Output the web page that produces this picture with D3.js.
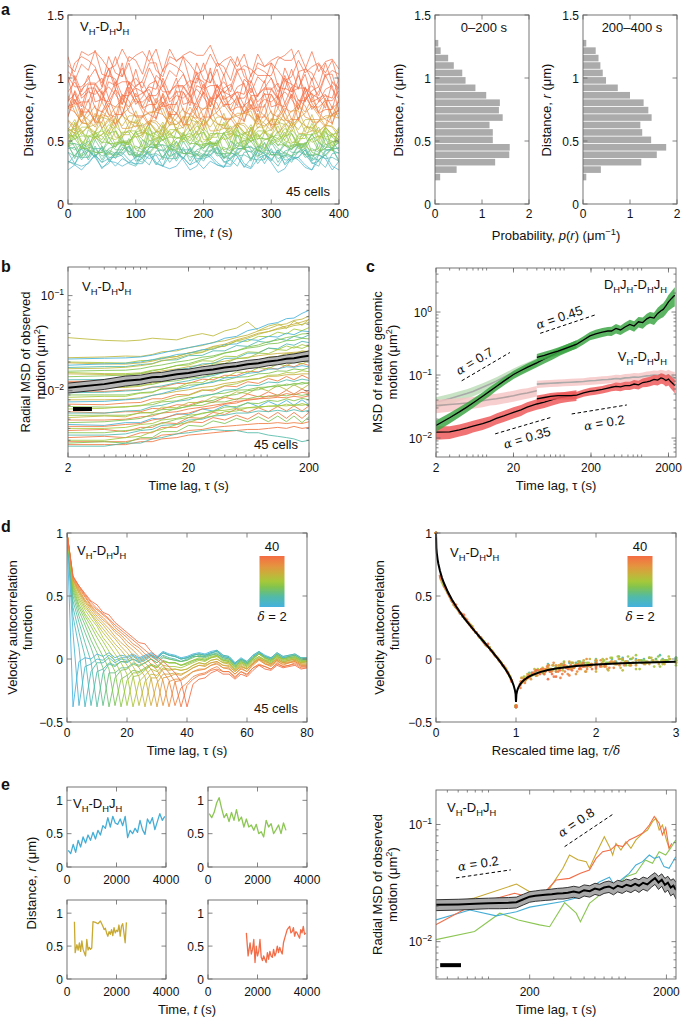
<!DOCTYPE html>
<html><head><meta charset="utf-8">
<script src="https://cdn.jsdelivr.net/npm/d3@7/dist/d3.min.js"></script>
<style>
html,body{margin:0;padding:0;background:#fff;}
svg{display:block;font-family:"Liberation Sans",Arial,Helvetica,sans-serif;}
</style></head><body>
<script>
// ================= DATA =================
// Panel a (left): distance r (x100, um) of 45 cells, sampled every 10 s
const aTime=[0,10,20,30,40,50,60,70,80,90,100,110,120,130,140,150,160,170,180,190,200,210,220,230,240,250,260,270,280,290,300,310,320,330,340,350,360,370,380,390,400];
const aTraces=[
[27,31,27,33,39,28,34,33,30,33,37,39,36,39,30,28,30,37,31,34,28,34,31,30,30,37,30,28,36,39,33,25,28,37,37,31,27,39,36,27,34],
[41,32,30,32,39,33,36,30,36,33,32,32,39,32,30,38,41,35,27,30,39,39,33,29,41,38,29,36,41,32,41,41,32,38,35,29,27,35,39,30,27],
[34,32,40,43,37,29,32,41,41,35,31,43,40,31,38,43,34,43,43,34,40,37,31,29,37,41,32,29,43,40,35,43,35,35,37,43,32,34,29,40,41],
[32,39,44,35,44,44,35,41,38,32,30,38,42,33,30,44,41,36,44,36,36,38,44,33,35,30,41,42,32,39,36,30,39,33,42,39,33,30,42,44,44],
[34,31,45,42,37,45,37,37,39,45,34,36,31,42,43,33,40,37,31,40,34,43,40,34,31,43,45,45,43,40,34,43,31,36,37,43,34,39,36,37,34],
[44,45,35,42,39,33,42,36,45,42,36,33,45,47,47,45,42,36,45,33,38,39,45,36,41,38,39,36,35,35,44,33,42,44,47,45,36,35,39,45,33],
[48,48,46,43,37,46,34,39,40,46,37,42,39,40,37,36,36,45,34,43,45,48,46,37,36,40,46,34,46,43,42,36,39,37,46,37,39,34,43,43,40],
[41,38,37,37,46,35,44,46,49,47,38,37,41,47,35,47,44,43,37,40,38,47,38,40,35,44,44,41,46,35,49,40,47,41,41,44,35,49,43,43,35],
[48,36,48,45,44,38,41,39,48,39,41,36,45,45,42,47,36,50,41,48,42,42,45,36,50,44,44,36,44,48,39,39,41,38,47,39,44,41,44,50,42],
[46,43,48,37,51,42,49,43,43,46,37,51,45,45,37,45,49,40,40,42,39,48,40,45,42,45,51,43,37,49,39,40,49,43,49,39,39,39,48,43,45],
[46,38,46,50,41,41,43,40,49,41,46,43,46,52,44,38,50,40,41,50,44,50,40,40,40,49,44,46,38,41,50,44,40,38,41,49,38,40,52,43,50],
[55,45,37,53,39,41,53,45,53,39,39,39,51,45,47,37,41,53,45,39,37,41,51,37,39,55,43,53,47,41,39,39,37,47,47,47,55,49,45,45,49],
[46,48,38,42,54,46,40,38,42,52,38,40,56,44,54,48,42,40,40,38,48,48,48,56,50,46,46,50,42,42,56,46,54,56,48,46,56,44,38,44,54],
[45,55,49,43,41,41,39,49,49,49,57,51,47,47,51,43,43,57,47,55,57,49,47,57,45,39,45,55,41,57,51,47,47,43,55,55,41,39,57,53,49],
[48,52,44,44,58,48,56,58,50,48,58,46,40,46,56,42,58,52,48,48,44,56,56,42,40,58,54,50,52,52,50,58,46,46,48,48,52,42,44,56,48],
[47,57,43,59,53,49,49,45,57,57,43,41,59,55,51,53,53,51,59,47,47,49,49,53,43,45,57,49,55,51,53,49,57,45,47,47,55,57,53,55,57],
[56,52,54,54,52,60,48,48,50,50,54,44,46,58,50,56,52,54,50,58,46,48,48,56,58,54,56,58,48,44,54,52,46,56,44,46,42,44,60,42,60],
[59,51,57,53,55,51,59,47,49,49,57,59,55,57,59,49,45,55,53,47,57,45,47,43,45,61,43,61,45,51,53,55,51,59,53,55,55,61,47,49,51],
[58,60,50,46,56,54,48,58,46,48,44,46,62,44,62,46,52,54,56,52,60,54,56,56,62,48,50,52,56,44,50,52,60,56,46,44,52,54,52,50,48],
[46,64,48,54,56,58,54,62,56,58,58,64,50,52,54,58,46,52,54,62,58,48,46,54,56,54,52,50,58,58,54,62,50,48,52,52,64,52,58,46,60],
[53,55,59,47,53,55,63,59,49,47,55,57,55,53,51,59,59,55,63,51,49,53,53,65,53,59,47,61,51,59,47,51,55,65,49,55,49,51,61,53,61],
[55,53,61,61,57,65,53,51,55,55,67,55,61,49,63,53,61,49,53,57,67,51,57,51,53,63,55,63,53,57,59,65,63,49,49,61,61,49,61,55,51],
[51,65,55,63,51,55,59,69,53,59,53,55,65,57,65,55,59,61,67,65,51,51,63,63,51,63,57,53,61,61,67,67,53,65,59,67,67,53,61,55,51],
[59,67,57,61,63,69,67,53,53,65,65,53,65,59,55,63,63,69,69,55,67,61,69,69,55,63,57,53,71,57,53,71,65,57,69,57,71,57,63,61,53],
[60,56,64,64,70,70,56,68,62,70,70,56,64,58,54,72,58,54,72,66,58,70,58,72,58,64,62,54,72,56,68,56,64,60,66,62,60,66,68,70,72],
[60,56,74,60,56,74,68,60,72,60,74,60,66,64,56,74,58,70,58,66,62,68,64,62,68,70,72,74,60,66,74,56,62,68,56,56,58,58,62,62,56],
[66,58,76,60,72,60,68,64,70,66,64,70,72,74,76,62,68,76,58,64,70,58,58,60,60,64,64,58,68,64,58,68,66,74,74,62,58,66,70,70,68],
[76,78,64,70,78,60,66,72,60,60,62,62,66,66,60,70,66,60,70,68,76,76,64,60,68,72,72,70,64,62,66,76,68,62,68,72,78,70,62,78,68],
[67,61,71,67,61,71,69,77,77,65,61,69,73,73,71,65,63,67,77,69,63,69,73,79,71,63,79,69,63,71,63,63,73,61,79,69,67,67,61,71,75],
[76,73,65,63,68,81,71,63,71,76,84,73,63,84,71,63,73,63,63,76,60,84,71,68,68,60,73,79,65,79,60,68,76,73,79,73,84,73,84,63,84],
[86,73,65,75,65,65,78,62,86,73,70,70,62,75,81,67,81,62,70,78,75,81,75,86,75,86,65,86,75,70,62,86,67,65,83,78,65,65,81,70,83],
[77,83,69,83,64,72,80,77,83,77,88,77,88,67,88,77,72,64,88,69,67,85,80,67,67,83,72,85,67,88,72,69,80,67,67,83,88,72,67,64,77],
[69,90,79,74,66,90,71,69,87,82,69,69,85,74,87,69,90,74,71,82,69,69,85,90,74,69,66,79,69,69,87,79,77,87,66,85,77,77,82,71,74],
[76,89,71,92,76,73,84,71,71,87,92,76,71,68,81,71,71,89,81,79,89,68,87,79,79,84,73,76,87,92,92,84,73,87,79,92,81,84,87,76,81],
[70,83,73,73,91,83,81,91,70,89,81,81,86,75,78,89,94,94,86,75,89,81,94,83,86,89,78,83,73,91,91,83,89,83,75,89,75,81,91,94,73],
[77,80,91,96,96,88,77,91,83,96,85,88,91,80,85,75,93,93,85,91,85,77,91,77,83,93,96,75,77,77,91,96,80,93,75,93,80,72,75,75,96],
[82,87,77,95,95,87,93,87,79,93,79,85,95,98,77,79,79,93,98,82,95,77,95,82,74,77,77,98,85,98,77,79,98,95,82,82,90,93,82,82,90],
[100,79,81,81,95,100,84,97,79,97,84,76,79,79,100,87,100,79,81,100,97,84,84,92,95,84,84,92,81,87,87,76,92,89,92,92,87,84,76,97,92],
[81,102,89,102,81,83,102,99,86,86,94,97,86,86,94,83,89,89,78,94,91,94,94,89,86,78,99,94,78,83,81,86,102,89,102,89,94,86,102,91,83],
[89,97,86,92,92,81,97,94,97,97,92,89,81,102,97,81,86,84,89,105,92,105,92,97,89,105,94,86,86,92,100,89,100,84,105,81,100,81,86,84,100],
[105,100,84,89,87,92,108,95,108,95,100,92,108,97,89,89,95,103,92,103,87,108,84,103,84,89,87,103,108,105,100,84,108,95,92,103,84,89,103,103,84],
[101,93,93,99,107,96,107,91,112,88,107,88,93,91,107,112,109,104,88,112,99,96,107,88,93,107,107,88,101,96,112,93,91,107,91,107,104,93,112,96,91],
[96,112,117,114,109,93,117,104,101,112,93,98,112,112,93,106,101,117,98,96,112,96,112,109,98,117,101,96,112,109,112,106,98,101,114,104,109,112,104,114,96],
[117,98,111,106,122,103,101,117,101,117,114,103,122,106,101,117,114,117,111,103,106,119,109,114,117,109,119,101,119,109,114,117,114,114,122,109,98,111,101,106,103],
[110,105,121,118,121,115,107,110,123,113,118,121,113,123,105,123,113,118,121,118,118,126,113,102,115,105,110,107,102,102,102,115,118,123,105,107,121,105,113,115,107]
];
// Panel a (right): histograms p(r)
const histR=[0.214,0.273,0.332,0.391,0.450,0.509,0.568,0.627,0.686,0.745,0.804,0.863,0.922,0.981,1.040,1.099,1.158,1.217,1.276];
const hist0to200=[0.11,0.46,1.28,1.58,1.59,1.23,1.23,1.16,1.44,1.36,1.38,1.09,0.86,0.65,0.58,0.40,0.28,0.12,0.07];
const hist200to400=[0.07,0.38,1.24,1.57,1.77,1.45,1.26,1.22,1.46,1.39,1.29,1.00,0.74,0.49,0.42,0.37,0.33,0.27,0.07];

// Panel b: radial MSD (x1e-4 um^2) vs time lag
const bTau=[2,4,6,8,10,12,16,20,26,32,40,50,62,76,92,110,130,150,175,200];
const bTraces=[
[361,338,332,340,356,350,342,372,398,376,425,455,530,428,478,505,452,540,486,565],
[222,226,231,229,240,256,262,284,298,322,335,362,385,425,448,488,505,548,565,610],
[215,219,221,226,236,248,270,282,304,318,356,372,428,452,500,520,572,580,650,700],
[200,197,195,207,208,224,228,250,255,288,292,332,330,372,370,412,395,445,428,460],
[196,191,190,196,204,216,229,249,266,292,308,342,368,402,418,452,478,502,528,560],
[185,191,194,200,212,218,240,246,270,272,305,310,345,338,372,366,402,388,425,418],
[175,179,179,188,192,208,211,233,235,262,262,298,292,330,320,352,338,372,358,385],
[170,172,176,183,191,205,219,238,252,278,296,334,356,392,418,442,458,484,498,522],
[160,163,164,170,180,186,200,208,225,232,250,262,280,290,310,315,335,338,355,350],
[155,151,151,154,164,168,183,186,206,204,230,228,256,252,280,270,295,280,305,290],
[150,148,146,151,155,161,169,179,185,196,204,216,224,233,240,246,249,253,255,262],
[140,143,146,151,161,168,184,192,212,225,248,262,288,302,328,340,362,372,395,398],
[130,131,136,139,148,152,167,172,191,193,218,220,248,248,280,276,310,300,330,320],
[125,126,129,131,137,140,147,156,161,171,177,187,194,206,211,221,224,232,234,241],
[121,120,121,127,129,136,139,148,150,163,165,179,182,196,196,208,206,218,214,224],
[115,118,119,127,130,143,147,164,168,190,193,218,220,248,245,270,265,290,278,298],
[110,109,110,114,116,123,127,135,139,149,155,165,170,181,186,196,199,206,207,212],
[105,107,108,111,120,124,136,140,155,158,178,182,202,206,226,228,246,244,262,256],
[100,98,101,102,109,109,119,119,132,130,145,144,160,157,174,168,186,178,194,184],
[95,96,99,101,108,112,121,127,137,144,156,164,176,184,196,204,214,219,228,230],
[90,90,90,95,97,104,105,114,116,126,128,138,140,150,152,161,160,169,165,174],
[85,87,87,94,95,106,107,121,121,138,137,157,154,174,170,190,182,202,190,208],
[80,80,81,84,89,92,98,102,108,111,119,123,131,134,141,142,147,147,150,150],
[76,77,80,82,89,93,103,107,118,122,136,139,152,156,168,169,178,176,183,178],
[72,71,74,75,82,82,91,90,102,99,112,110,124,119,134,126,141,130,145,134],
[68,67,67,70,71,76,78,84,86,92,94,101,102,108,109,115,113,119,117,122],
[64,65,68,69,75,78,86,89,100,103,113,118,130,133,145,146,155,153,162,158],
[60,58,60,60,65,64,71,70,78,75,85,80,92,86,97,89,101,92,104,95],
[58,58,61,62,68,70,77,80,89,91,101,103,114,113,123,121,130,125,132,128],
[55,55,55,58,59,63,64,69,70,76,76,82,82,87,86,90,88,92,89,92],
[52,54,53,59,58,67,66,75,75,86,84,97,93,107,99,113,102,115,104,116],
[49,49,50,53,54,58,60,64,67,70,73,77,79,82,83,85,84,87,85,88],
[46,47,49,51,56,58,65,68,76,79,88,91,100,102,110,110,117,114,122,118],
[44,43,46,46,51,50,57,56,64,61,70,66,75,68,77,70,79,70,80,71],
[42,42,44,45,49,51,56,58,64,66,72,74,81,82,88,87,93,90,96,93],
[40,40,41,44,45,49,51,55,57,61,62,65,66,68,68,70,69,71,70,72],
[38,39,37,41,41,46,45,52,51,59,56,64,59,66,60,68,61,69,61,69],
[36,36,38,39,43,45,50,52,58,60,67,68,74,73,79,77,82,78,83,80],
[34,34,35,38,39,43,44,49,50,54,55,58,58,61,60,62,60,63,60,62],
[32,33,32,36,36,41,41,47,46,52,49,55,50,58,51,59,51,59,51,59],
[30,30,32,33,37,39,44,46,52,54,60,61,66,66,69,68,72,69,73,70],
[29,29,29,31,31,34,35,38,39,41,42,43,44,45,45,46,45,46,45,47],
[28,29,28,32,32,37,37,43,42,48,45,51,47,53,47,54,47,54,46,53],
[27,27,27,29,29,31,32,34,35,36,37,38,39,39,40,41,40,42,40,41],
[26,26,28,28,31,32,35,36,38,39,38,38,36,36,34,33,32,31,29,30]
];
const bColor=[0.6,0.62,0.02,0.5,0.66,0.05,0.18,0.6,0.38,0.5,0.66,0.4,0.15,0.95,0.92,0.48,0.4,0.6,0.95,0.16,0.38,0.5,0.66,0.05,0.92,0.4,0.52,0.95,0.18,0.4,0.6,0.92,0.38,0.05,0.95,0.5,0.92,0.4,0.18,0.95,0.48,0.92,0.38,0.95,0.2];
const bMean=[107,117,127,131,138,140,149,153,162,167,175,180,189,194,203,208,216,219,227,233];
const bErr=[0.12,0.12,0.12,0.11,0.11,0.11,0.11,0.1,0.1,0.1,0.1,0.1,0.1,0.1,0.1,0.1,0.1,0.11,0.11,0.12];
const bBarTau=[2.2,3.16], bBarMSD=0.0064;

// Panel c: MSD of relative genomic motion (um^2)
const cTauS=[2,3,4,5,6,8,10,12,15,20,25,30,40,50,65,80,100,130];
const cGreenS=[0.0158,0.021,0.026,0.031,0.036,0.046,0.056,0.066,0.08,0.102,0.118,0.132,0.156,0.18,0.21,0.24,0.27,0.31];
const cRedS=[0.0124,0.0125,0.0135,0.0145,0.0155,0.017,0.0185,0.0205,0.0225,0.0256,0.028,0.031,0.0347,0.037,0.041,0.044,0.046,0.048];
const cGrayGS=[0.037,0.042,0.047,0.051,0.055,0.064,0.072,0.08,0.092,0.11,0.125,0.138,0.16];
const cGrayRS=[0.0327,0.034,0.035,0.036,0.037,0.039,0.041,0.042,0.044,0.047,0.05,0.052,0.0565];
const cErrGS=[0.2,0.19,0.18,0.17,0.17,0.16,0.16,0.15,0.15,0.15,0.15,0.15,0.15,0.15,0.15,0.15,0.15,0.15];
const cErrRS=[0.24,0.23,0.22,0.22,0.21,0.21,0.2,0.2,0.2,0.2,0.2,0.19,0.19,0.19,0.19,0.19,0.19,0.19];
const cTauL=[40,50,60,75,90,110,131,160,194,230,280,330,368,420,480,550,634,720,820,930,1050,1154,1300,1450,1600,1708,1850,2000,2150,2300,2412];
const cGreenL=[0.19,0.205,0.22,0.24,0.26,0.285,0.31,0.36,0.418,0.45,0.48,0.5,0.5,0.55,0.52,0.58,0.637,0.6,0.7,0.68,0.78,0.83,0.8,0.95,1.05,1.1,1.25,1.45,1.6,1.75,1.85];
const cRedL=[0.0417,0.044,0.046,0.047,0.047,0.047,0.048,0.052,0.055,0.0565,0.059,0.062,0.064,0.066,0.065,0.068,0.068,0.072,0.07,0.076,0.078,0.08,0.085,0.083,0.09,0.088,0.082,0.086,0.078,0.072,0.068];
const cGrayRL=[0.0718,0.073,0.074,0.075,0.076,0.077,0.078,0.079,0.081,0.082,0.084,0.085,0.086,0.088,0.087,0.09,0.091,0.093,0.092,0.095,0.097,0.098,0.1,0.099,0.102,0.1,0.097,0.1,0.095,0.092,0.09];
const cErrGL=[0.14,0.14,0.14,0.14,0.14,0.14,0.15,0.15,0.15,0.16,0.16,0.16,0.17,0.17,0.17,0.18,0.18,0.19,0.19,0.2,0.2,0.21,0.22,0.23,0.24,0.25,0.26,0.28,0.3,0.32,0.34];
const cErrRL=[0.13,0.13,0.13,0.13,0.13,0.13,0.13,0.13,0.14,0.14,0.14,0.14,0.14,0.15,0.15,0.15,0.15,0.16,0.16,0.16,0.17,0.17,0.18,0.18,0.19,0.19,0.2,0.21,0.22,0.23,0.25];
// guide slopes: [tau0, msd0, tau1, msd1, label tau, label msd, label]
const cGuides=[
 [4.29,0.081,18.0,0.228,6.7,0.168,"0.7"],
 [44.2,0.459,236,0.916,81.2,0.813,"0.45"],
 [11.6,0.01164,62.2,0.0214,31,0.0100,"0.35"],
 [112.6,0.0241,580,0.0335,302,0.0172,"0.2"]
];

// Panel d: velocity autocorrelation (x100) for delta = 2..40 s
const dTau=[0,2,4,6,8,10,12,14,16,18,20,22,24,26,28,30,32,34,36,38,40,42,44,46,48,50,52,54,56,58,60,62,64,66,68,70,72,74,76,78,80];
const dDelta=[2,4,6,8,10,12,14,16,18,20,22,24,26,28,30,32,34,36,38,40];
const dCurves=[
[100,-38,-2,1,0,4,2,5,1,3,2,4,1,3,5,2,6,4,3,1,2,4,5,4,6,7,3,2,-3,1,-2,3,6,3,1,5,2,3,4,1,1],
[100,21,-37,-6,-4,0,-1,3,-1,1,1,3,0,2,4,1,5,3,2,0,1,3,4,3,5,6,2,1,-4,0,-3,2,5,2,0,4,1,2,3,0,0],
[100,34,9,-38,-10,-3,-3,1,-3,0,-1,2,-1,1,3,1,5,3,2,0,1,3,4,3,5,6,2,1,-4,0,-3,2,5,2,0,4,1,2,3,0,0],
[100,41,21,2,-37,-10,-8,-3,-5,-2,-3,0,-3,-1,2,-1,3,1,0,-2,0,2,2,2,4,4,1,0,-5,-1,-4,1,5,1,-1,2,0,1,2,-1,-1],
[100,46,29,13,-2,-38,-11,-4,-6,-2,-2,0,-2,0,3,0,5,3,2,0,1,3,4,3,4,7,3,2,-3,0,-2,3,6,2,1,5,2,3,4,1,1],
[100,50,34,21,9,-5,-37,-11,-11,-7,-7,-3,-5,-3,0,-3,1,0,-1,-2,-1,2,2,1,3,4,0,-1,-6,-2,-4,0,4,1,-1,3,0,1,1,-1,-1],
[100,53,38,27,15,5,-7,-38,-15,-9,-8,-4,-6,-3,0,-3,2,0,-1,-2,-1,1,3,2,3,5,1,0,-5,-1,-3,1,4,1,-1,4,0,2,3,0,0],
[100,55,41,31,21,11,2,-8,-37,-16,-13,-9,-10,-7,-4,-6,-1,-3,-3,-5,-4,-2,0,-1,1,3,-1,-2,-7,-3,-6,-1,2,-1,-3,1,-2,-1,0,-3,-2],
[100,57,43,34,26,17,9,0,-10,-38,-17,-11,-11,-8,-5,-7,-2,-3,-3,-5,-3,-1,0,-1,1,2,-1,-2,-6,-2,-5,0,4,0,-2,2,-1,0,1,-2,-2],
[100,58,46,36,29,21,14,6,-2,-11,-37,-14,-13,-9,-5,-7,-2,-3,-3,-5,-3,-1,1,0,2,3,-1,-1,-6,-2,-5,1,4,1,-1,3,0,1,2,-1,-1],
[100,59,48,39,32,26,17,11,4,-3,-12,-38,-18,-13,-8,-10,-5,-6,-6,-7,-5,-3,-1,-2,1,2,-2,-3,-8,-3,-6,-1,2,-1,-2,2,-1,0,1,-2,-2],
[100,60,50,41,35,28,21,15,9,2,-5,-13,-37,-18,-12,-13,-7,-8,-8,-9,-8,-5,-3,-4,-1,0,-3,-4,-9,-5,-8,-3,1,-2,-4,0,-3,-1,0,-3,-3],
[100,61,52,43,36,30,24,18,12,7,1,-6,-14,-38,-15,-15,-8,-9,-8,-9,-8,-5,-3,-4,-1,0,-3,-3,-9,-4,-7,-2,1,-1,-4,1,-2,-1,0,-3,-2],
[100,62,53,45,38,32,27,21,16,10,5,-1,-7,-14,-37,-19,-12,-12,-11,-12,-10,-7,-5,-6,-3,-2,-5,-6,-10,-6,-8,-3,0,-3,-5,-1,-3,-2,-1,-4,-4],
[100,63,54,46,40,34,29,24,18,13,9,3,-2,-7,-15,-38,-15,-14,-12,-13,-10,-7,-5,-5,-3,-2,-5,-5,-10,-6,-8,-4,0,-2,-4,0,-3,-3,-1,-4,-4],
[100,63,55,47,41,36,31,27,21,17,11,7,2,-3,-8,-16,-37,-18,-16,-16,-13,-10,-8,-8,-5,-4,-7,-8,-12,-8,-10,-5,-1,-4,-6,-2,-4,-3,-2,-5,-5],
[100,64,56,49,42,37,33,28,23,19,14,10,6,1,-4,-9,-17,-38,-18,-17,-14,-10,-9,-8,-5,-3,-7,-7,-12,-7,-10,-4,0,-4,-5,-1,-5,-3,-2,-5,-5],
[100,65,57,50,43,39,35,31,25,21,17,12,9,4,0,-5,-10,-17,-37,-23,-19,-14,-12,-11,-8,-6,-10,-10,-15,-10,-13,-7,-4,-6,-8,-4,-6,-5,-4,-7,-7],
[100,65,58,51,45,40,36,32,27,23,19,15,11,7,3,-1,-5,-11,-18,-38,-21,-16,-13,-12,-9,-8,-10,-10,-14,-10,-12,-7,-5,-6,-8,-3,-6,-5,-3,-6,-6],
[100,66,58,52,46,43,37,35,29,25,21,17,13,12,6,2,-2,-6,-11,-18,-38,-20,-16,-15,-11,-9,-12,-12,-16,-12,-14,-9,-5,-8,-9,-5,-7,-6,-5,-8,-7]
];
// Panel d (right): master curve vs rescaled lag
const acfS=[0,0.005,0.01,0.02,0.03,0.05,0.075,0.1,0.15,0.2,0.25,0.3,0.35,0.4,0.45,0.5,0.55,0.6,0.65,0.7,0.75,0.8,0.85,0.9,0.93,0.95,0.97,0.985,0.995,1,1.005,1.015,1.03,1.05,1.075,1.1,1.15,1.2,1.3,1.4,1.5,1.75,2,2.25,2.5,2.75,3];
const acfV=[1,0.88,0.841,0.791,0.754,0.698,0.644,0.601,0.529,0.47,0.418,0.371,0.327,0.286,0.247,0.209,0.172,0.135,0.098,0.06,0.021,-0.019,-0.064,-0.113,-0.148,-0.176,-0.209,-0.243,-0.279,-0.34,-0.282,-0.251,-0.225,-0.203,-0.182,-0.167,-0.144,-0.128,-0.104,-0.088,-0.076,-0.056,-0.044,-0.035,-0.029,-0.025,-0.022];

// Panel e (left): single-cell distance traces (x100, um)
const eBlueT=[50,150,250,350,450,550,650,750,850,950,1050,1150,1250,1350,1450,1550,1650,1750,1850,1950,2050,2150,2250,2350,2450,2550,2650,2750,2850,2950,3050,3150,3250,3350,3450,3550,3650,3750,3850,3950];
const eBlueR=[25,20,34,22,40,30,45,36,48,40,52,42,55,48,62,58,74,60,76,66,64,72,62,76,44,55,50,58,52,70,56,49,72,65,74,56,68,80,70,76];
const eGreenT=[50,150,250,350,450,550,650,750,850,950,1050,1150,1250,1350,1450,1550,1650,1750,1850,1950,2050,2150,2250,2350,2450,2550,2650,2750,2850,2950,3050,3150];
const eGreenR=[80,74,82,96,104,88,74,80,68,82,70,86,69,75,60,72,60,63,55,64,50,53,45,70,60,65,50,56,63,50,66,55];
const eYellowT=[300,330,400,450,500,550,600,650,700,750,800,850,900,950,1000,1050,1150,1250,1350,1450,1500,1550,1600,1650,1700,1750,1800,1850,1900,1950,2000,2050,2100,2150,2200,2250,2300,2350,2400];
const eYellowR=[87,40,52,44,55,42,58,45,40,35,60,44,48,45,47,87,86,84,88,80,75,77,70,65,72,68,75,66,78,70,74,72,82,65,80,84,70,55,86];
const eOrangeT=[1550,1620,1700,1750,1800,1850,1900,1950,2000,2050,2100,2150,2200,2250,2300,2350,2400,2450,2500,2550,2600,2650,2700,2750,2800,2850,2900,2950,3000,3050,3100,3200,3300,3350,3400,3450,3500,3550,3600,3700,3750,3800,3850,3900,3950];
const eOrangeR=[70,35,55,38,45,60,25,50,35,42,60,33,28,35,30,25,40,30,42,35,33,45,35,40,50,40,48,42,38,55,62,75,80,70,72,78,65,72,70,62,75,70,80,68,70];

// Panel e (right): radial MSD (x1e-4 um^2) of long tracks
const eTau=[41,60,80,100,120,140,160,180,200,220,240,260,290,320,350,380,420,460,500,550,600,650,700,760,820,880,950,1020,1100,1180,1260,1350,1450,1550,1650,1750,1850,1950,2050,2150,2250,2350];
const eMean=[206,208,211,213,214,215,217,230,242,246,249,251,254,258,259,262,268,262,275,270,284,278,290,296,284,300,292,306,298,312,300,318,308,330,348,320,338,305,318,290,300,276];
const eErr=[22,22,22,22,23,23,23,24,25,25,26,26,27,27,28,28,29,29,30,30,31,31,32,33,33,34,34,35,36,36,37,38,38,39,40,41,41,42,43,44,44,45];
const eYelT=[41,77,160,200,236,280,350,391,450,518,547,610,703,766,809,855,930,1012,1100,1197,1338,1455,1582,1675,1770,1870,2000,2092];
const eYelV=[199,234,310,267,234,285,423,549,500,482,423,560,787,647,549,690,605,714,626,738,841,897,1057,1130,897,990,738,626];
const eOrT=[41,77,155,200,236,280,313,391,470,547,612,684,780,855,960,1069,1197,1338,1500,1630,1770,1870,1975,2092,2190];
const eOrV=[139,206,259,240,234,294,336,347,383,409,514,586,605,668,647,738,787,841,990,1170,1024,814,940,626,690];
const eBlT=[41,73,114,160,200,350,470,547,650,766,830,930,1069,1197,1338,1500,1630,1770,1920,2092,2340];
const eBlV=[153,186,166,180,197,220,242,285,325,355,305,336,383,451,482,549,514,531,437,423,531];
const eGrT=[41,79,121,165,236,280,360,438,470,547,630,720,855,1012,1197,1400,1582,1770,1975,2140,2340];
const eGrV=[104,122,175,153,139,134,215,175,148,212,242,315,294,359,383,498,466,586,549,626,738];
const eGuides=[
 [57.8,0.035,145.5,0.041,85,0.046,"0.2"],
 [360,0.0647,832,0.1247,455,0.105,"0.8"]
];
const eBarTau=[44.3,62.9], eBarMSD=0.0063;

// ================= DRAWING =================
const W=685,H=1020, FR="#666", INK="#111";
const svg=d3.select("body").append("svg").attr("width",W).attr("height",H);
const defs=svg.append("defs");
const cmap=d3.scaleLinear().domain([0,0.2,0.38,0.5,0.65,0.82,1])
  .range(["#43b1de","#52baa8","#7ec34f","#a5c83a","#c8b13b","#e8903f","#f46c43"]).clamp(true);

let clipN=0;
function clipG(x0,x1,y0,y1){
  const id="clip"+(clipN++);
  defs.append("clipPath").attr("id",id).append("rect").attr("x",x0).attr("y",y0).attr("width",x1-x0).attr("height",y1-y0);
  return svg.append("g").attr("clip-path",`url(#${id})`);
}
function txt(g,x,y,s,o={}){
  const t=g.append("text").attr("x",x).attr("y",y).attr("font-size",o.size||12)
    .attr("text-anchor",o.anchor||"start").attr("fill",INK).text(s);
  if(o.weight) t.attr("font-weight",o.weight);
  return t;
}
function rich(g,x,y,parts,o={}){
  const fs=o.size||13;
  const t=g.append("text").attr("x",x).attr("y",y).attr("font-size",fs)
    .attr("text-anchor",o.anchor||"start").attr("fill",INK);
  if(o.rotate!=null) t.attr("transform",`rotate(${o.rotate},${x},${y})`);
  let shift=0;
  parts.forEach(([s,k])=>{
    const ts=t.append("tspan").text(s);
    let target=0;
    if(k==="sub"){target=fs*0.3; ts.attr("font-size",fs*0.72);}
    else if(k==="sup"){target=-fs*0.4; ts.attr("font-size",fs*0.72);}
    else if(k==="i"){ts.attr("font-style","italic");}
    else if(k==="g"){ts.attr("font-family",'"DejaVu Serif",serif').attr("font-style","italic").attr("font-size",fs*0.92);}
    if(Math.abs(target-shift)>0.01){ts.attr("dy",target-shift); shift=target;}
  });
  return t;
}
const VDJ=[["V"],["H","sub"],["-D"],["H","sub"],["J"],["H","sub"]];
const DJDJ=[["D"],["H","sub"],["J"],["H","sub"],["-D"],["H","sub"],["J"],["H","sub"]];
const numFmt=v=>(v<0?"\u2212":"")+Math.abs(v);

function axes(o){
  const g=svg.append("g");
  const {x0,x1,y0,y1,xs,ys}=o;
  const L=(a,b,c,d)=>g.append("line").attr("x1",a).attr("y1",b).attr("x2",c).attr("y2",d).attr("stroke",FR).attr("stroke-width",0.8);
  (o.xMinor||[]).forEach(v=>{const p=xs(v); if(p<x0+0.5||p>x1-0.5)return; L(p,y1,p,y1-2.5); L(p,y0,p,y0+2.5);});
  (o.xMajor||[]).forEach(v=>{const p=xs(v); L(p,y1,p,y1-4.5); L(p,y0,p,y0+4.5);});
  (o.yMinor||[]).forEach(v=>{const p=ys(v); if(p<y0+0.5||p>y1-0.5)return; L(x0,p,x0+2.5,p); L(x1,p,x1-2.5,p);});
  (o.yMajor||[]).forEach(v=>{const p=ys(v); L(x0,p,x0+4.5,p); L(x1,p,x1-4.5,p);});
  g.append("rect").attr("x",x0).attr("y",y0).attr("width",x1-x0).attr("height",y1-y0)
    .attr("fill","none").attr("stroke",FR).attr("stroke-width",0.9);
  (o.xMajor||[]).forEach(v=>txt(g,xs(v),y1+(o.xdy||14),numFmt(v),{anchor:"middle"}));
  (o.yMajor||[]).forEach(v=>{
    if(o.yLog){
      const e=Math.round(Math.log10(v));
      rich(g,x0-4,ys(v)+4.5,[["10"],[numFmt(e),"sup"]],{anchor:"end",size:12});
    } else txt(g,x0-4,ys(v)+4.5,numFmt(v),{anchor:"end"});
  });
  return g;
}
function logMinor(lo,hi){const a=[];for(let e=-4;e<=4;e++)for(let m=2;m<=9;m++){const v=m*Math.pow(10,e);if(v>=lo&&v<=hi)a.push(v);}return a;}
function yTitle(x,y,parts){rich(svg,x,y,parts,{anchor:"middle",rotate:-90,size:13});}
function xTitle(x,y,parts){rich(svg,x,y,parts,{anchor:"middle",size:13});}
function letter(x,y,s){txt(svg,x,y,s,{size:16,weight:"bold"});}

// ---------- Panel a (left) ----------
{
  const x0=68,x1=339,y0=15,y1=204;
  const xs=d3.scaleLinear([0,400],[x0,x1]), ys=d3.scaleLinear([0,1.5],[y1,y0]);
  const g=clipG(x0,x1,y0,y1);
  const line=d3.line().defined((d,i)=>i<aTime.length).x((d,i)=>xs(aTime[i])).y(d=>ys(d/100));
  aTraces.forEach(tr=>{
    const m=d3.mean(tr)/100;
    g.append("path").attr("d",line(tr)).attr("fill","none")
      .attr("stroke",cmap((m-0.3)/0.5)).attr("stroke-width",0.7).attr("stroke-linejoin","round");
  });
  axes({x0,x1,y0,y1,xs,ys,xMajor:[0,100,200,300,400],yMajor:[0,0.5,1,1.5],xdy:13.5});
  rich(svg,80,31,VDJ,{size:13});
  txt(svg,330,196,"45 cells",{anchor:"end",size:13});
  yTitle(33,110,[["Distance, "],["r","i"],[" (\u03bcm)"]]);
  xTitle(203.5,237,[["Time, "],["t","i"],[" (s)"]]);
  letter(1,15,"a");
}
// ---------- Panel a (right): histograms ----------
function hist(x0,x1,vals,label,titleX){
  const y0=15,y1=204;
  const xs=d3.scaleLinear([0,2],[x0,x1]), ys=d3.scaleLinear([0,1.5],[y1,y0]);
  const g=clipG(x0,x1,y0,y1);
  const hw=0.0262;
  g.selectAll("rect").data(vals).enter().append("rect")
    .attr("x",x0).attr("y",(d,i)=>ys(histR[i]+hw)).attr("width",d=>xs(d)-x0)
    .attr("height",(d,i)=>ys(histR[i]-hw)-ys(histR[i]+hw)).attr("fill","#ababab");
  axes({x0,x1,y0,y1,xs,ys,xMajor:[0,1,2],yMajor:[0,0.5,1,1.5],xdy:13.5});
  txt(svg,(x0+x1)/2+2,32,label,{anchor:"middle",size:13});
  yTitle(titleX,110,[["Distance, "],["r","i"],[" (\u03bcm)"]]);
}
hist(435,529,hist0to200,"0\u2013200 s",403);
hist(583,677,hist200to400,"200\u2013400 s",551);
xTitle(556,240,[["Probability, "],["p","i"],["("],["r","i"],[") (\u03bcm"],["\u22121","sup"],[")"]]);

// ---------- Panel b ----------
{
  const x0=68,x1=309,y0=267,y1=457;
  const xs=d3.scaleLog([2,200],[x0,x1]), ys=d3.scaleLog([0.002,0.2],[y1,y0]);
  const g=clipG(x0,x1,y0,y1);
  const line=d3.line().x((d,i)=>xs(bTau[i])).y(d=>ys(d*1e-4));
  bTraces.forEach((tr,k)=>g.append("path").attr("d",line(tr)).attr("fill","none")
    .attr("stroke",cmap(bColor[k])).attr("stroke-width",0.85));
  const area=d3.area().x((d,i)=>xs(bTau[i])).y0((d,i)=>ys(d*1e-4*(1-bErr[i]))).y1((d,i)=>ys(d*1e-4*(1+bErr[i])));
  g.append("path").attr("d",area(bMean)).attr("fill","#b4b4b4").attr("stroke","none");
  const lo=d3.line().x((d,i)=>xs(bTau[i])).y((d,i)=>ys(d*1e-4*(1-bErr[i])));
  const hi=d3.line().x((d,i)=>xs(bTau[i])).y((d,i)=>ys(d*1e-4*(1+bErr[i])));
  g.append("path").attr("d",lo(bMean)).attr("fill","none").attr("stroke","#222").attr("stroke-width",0.9);
  g.append("path").attr("d",hi(bMean)).attr("fill","none").attr("stroke","#222").attr("stroke-width",0.9);
  g.append("path").attr("d",line(bMean)).attr("fill","none").attr("stroke","#000").attr("stroke-width",2);
  g.append("rect").attr("x",xs(bBarTau[0])).attr("y",ys(bBarMSD)-2).attr("width",xs(bBarTau[1])-xs(bBarTau[0])).attr("height",4).attr("fill","#000");
  axes({x0,x1,y0,y1,xs,ys,xMajor:[2,20,200],xMinor:logMinor(2,200),yMajor:[0.01,0.1],yMinor:logMinor(0.002,0.2),yLog:true,xdy:14.5});
  rich(svg,82,291,VDJ,{size:13});
  txt(svg,298,449,"45 cells",{anchor:"end",size:13});
  yTitle(30,362,[["Radial MSD of observed"]]);
  yTitle(45,362,[["motion (\u03bcm"],["2","sup"],[")"]]);
  xTitle(188.5,490,[["Time lag, \u03c4 (s)"]]);
  letter(1,272,"b");
}
// ---------- Panel c ----------
{
  const x0=436,x1=676,y0=268,y1=457;
  const xs=d3.scaleLog([2,2500],[x0,x1]), ys=d3.scaleLog([0.005,5],[y1,y0]);
  const g=clipG(x0,x1,y0,y1);
  function band(tau,m,err,fill,op,lineCol,lw){
    const ar=d3.area().x((d,i)=>xs(tau[i])).y0((d,i)=>ys(d*(1-err[i]))).y1((d,i)=>ys(d*(1+err[i])));
    g.append("path").attr("d",ar(m)).attr("fill",fill).attr("fill-opacity",op);
    const ln=d3.line().x((d,i)=>xs(tau[i])).y(d=>ys(d));
    g.append("path").attr("d",ln(m)).attr("fill","none").attr("stroke",lineCol).attr("stroke-width",lw);
  }
  band(cTauS,cGrayGS,cErrGS,"#b9dcb5",0.8,"#a9a9a9",1.6);
  band(cTauS,cGrayRS,cErrRS,"#f6c3c3",0.8,"#b3a3a3",1.6);
  band(cTauL,cGrayRL,cErrRL,"#f6c3c3",0.8,"#aaaaaa",1.6);
  band(cTauS,cRedS,cErrRS,"#ef5a5a",0.85,"#000",1.3);
  band(cTauL,cRedL,cErrRL,"#ef5a5a",0.85,"#000",1.3);
  band(cTauS,cGreenS,cErrGS,"#3ea746",0.85,"#000",1.3);
  band(cTauL,cGreenL,cErrGL,"#3ea746",0.85,"#000",1.3);
  axes({x0,x1,y0,y1,xs,ys,xMajor:[2,20,200,2000],xMinor:logMinor(2,2500),yMajor:[0.01,0.1,1],yMinor:logMinor(0.005,5),yLog:true,xdy:14.5});
  cGuides.forEach(([t0,m0,t1,m1,lt,lm,lab])=>{
    const ax=xs(t0),ay=ys(m0),bx=xs(t1),by=ys(m1);
    svg.append("line").attr("x1",ax).attr("y1",ay).attr("x2",bx).attr("y2",by)
      .attr("stroke","#000").attr("stroke-width",1).attr("stroke-dasharray","3.5,2.5");
    const ang=Math.atan2(by-ay,bx-ax)*180/Math.PI;
    rich(svg,xs(lt),ys(lm)+4,[["\u03b1","g"],[" = "+lab]],{anchor:"middle",size:13,rotate:ang});
  });
  rich(svg,667,289,DJDJ,{anchor:"end",size:13});
  rich(svg,667,361,VDJ,{anchor:"end",size:13});
  yTitle(382,362,[["MSD of relative genomic"]]);
  yTitle(397,362,[["motion (\u03bcm"],["2","sup"],[")"]]);
  xTitle(556,490,[["Time lag, \u03c4 (s)"]]);
  letter(366,272,"c");
}
// colorbar
const grad=defs.append("linearGradient").attr("id","cbar").attr("x1",0).attr("y1",1).attr("x2",0).attr("y2",0);
d3.range(0,1.0001,0.1).forEach(t=>grad.append("stop").attr("offset",t).attr("stop-color",cmap(t)));
function colorbar(cx){
  svg.append("rect").attr("x",cx-12.5).attr("y",556).attr("width",25).attr("height",51).attr("fill","url(#cbar)");
  txt(svg,cx,551,"40",{anchor:"middle",size:13});
  rich(svg,cx,621,[["\u03b4","g"],[" = 2"]],{anchor:"middle",size:13});
}
// ---------- Panel d (left) ----------
{
  const x0=67,x1=307,y0=533,y1=722;
  const xs=d3.scaleLinear([0,80],[x0,x1]), ys=d3.scaleLinear([-0.5,1],[y1,y0]);
  const g=clipG(x0,x1,y0,y1);
  const line=d3.line().x((d,i)=>xs(dTau[i])).y(d=>ys(d/100));
  dCurves.forEach((c,k)=>g.append("path").attr("d",line(c)).attr("fill","none")
    .attr("stroke",cmap(k/(dCurves.length-1))).attr("stroke-width",0.85).attr("stroke-linejoin","round"));
  axes({x0,x1,y0,y1,xs,ys,xMajor:[0,20,40,60,80],yMajor:[-0.5,0,0.5,1],xdy:15});
  rich(svg,77,555,VDJ,{size:13});
  txt(svg,298,713,"45 cells",{anchor:"end",size:13});
  colorbar(272);
  yTitle(17,627.5,[["Velocity autocorrelation"]]);
  yTitle(32,627.5,[["function"]]);
  xTitle(187,755,[["Time lag, \u03c4 (s)"]]);
  letter(1,532,"d");
}
// ---------- Panel d (right) ----------
{
  const x0=436,x1=676,y0=533,y1=722;
  const xs=d3.scaleLinear([0,3],[x0,x1]), ys=d3.scaleLinear([-0.5,1],[y1,y0]);
  const g=clipG(x0-3,x1+3,y0-3,y1+3);
  dCurves.forEach((c,k)=>{
    const col=cmap(k/(dCurves.length-1));
    c.forEach((v,j)=>{
      const s=dTau[j]/dDelta[k];
      if(s>3.02) return;
      g.append("circle").attr("cx",xs(s)).attr("cy",ys(v/100)).attr("r",1.35).attr("fill",col).attr("fill-opacity",0.9);
    });
  });
  const line=d3.line().x((d,i)=>xs(acfS[i])).y(d=>ys(d));
  g.append("path").attr("d",line(acfV)).attr("fill","none").attr("stroke","#000").attr("stroke-width",2);
  axes({x0,x1,y0,y1,xs,ys,xMajor:[0,1,2,3],yMajor:[-0.5,0,0.5,1],xdy:15});
  rich(svg,450,557,VDJ,{size:13});
  colorbar(640);
  yTitle(384,627.5,[["Velocity autocorrelation"]]);
  yTitle(399,627.5,[["function"]]);
  xTitle(556,755,[["Rescaled time lag, "],["\u03c4/\u03b4","g"]]);
}
// ---------- Panel e (left) ----------
function small(x0,x1,y0,y1,T,R,col){
  const xs=d3.scaleLinear([0,4000],[x0,x1]), ys=d3.scaleLinear([0,1.2],[y1,y0]);
  const g=clipG(x0,x1,y0,y1);
  const line=d3.line().x((d,i)=>xs(T[i])).y(d=>ys(d/100));
  g.append("path").attr("d",line(R)).attr("fill","none").attr("stroke",col).attr("stroke-width",1.3).attr("stroke-linejoin","round");
  axes({x0,x1,y0,y1,xs,ys,xMajor:[0,2000,4000],yMajor:[0,0.5,1],xdy:16.5});
}
small(67,166,787,867,eBlueT,eBlueR,"#45aed6");
small(208,307,787,867,eGreenT,eGreenR,"#8cc653");
small(67,166,900,979,eYellowT,eYellowR,"#c8a932");
small(208,307,900,979,eOrangeT,eOrangeR,"#f36d48");
rich(svg,73,808,VDJ,{size:13});
yTitle(36,883,[["Distance, "],["r","i"],[" (\u03bcm)"]]);
xTitle(187,1014,[["Time, "],["t","i"],[" (s)"]]);
letter(1,790,"e");
// ---------- Panel e (right) ----------
{
  const x0=436,x1=676,y0=790,y1=979;
  const xs=d3.scaleLog([41.3,2350],[x0,x1]), ys=d3.scaleLog([0.0048,0.197],[y1,y0]);
  const g=clipG(x0,x1,y0,y1);
  const cell=(T,V,col)=>{
    const ln=d3.line().x((d,i)=>xs(T[i])).y(d=>ys(d*1e-4));
    g.append("path").attr("d",ln(V)).attr("fill","none").attr("stroke",col).attr("stroke-width",1.1);
  };
  cell(eGrT,eGrV,"#8cc653");
  cell(eBlT,eBlV,"#45aed6");
  cell(eYelT,eYelV,"#c8a932");
  cell(eOrT,eOrV,"#f36d48");
  const ar=d3.area().x((d,i)=>xs(eTau[i])).y0((d,i)=>ys((d-eErr[i])*1e-4)).y1((d,i)=>ys((d+eErr[i])*1e-4));
  g.append("path").attr("d",ar(eMean)).attr("fill","#a9a9a9");
  const lo=d3.line().x((d,i)=>xs(eTau[i])).y((d,i)=>ys((d-eErr[i])*1e-4));
  const hi=d3.line().x((d,i)=>xs(eTau[i])).y((d,i)=>ys((d+eErr[i])*1e-4));
  g.append("path").attr("d",lo(eMean)).attr("fill","none").attr("stroke","#222").attr("stroke-width",0.9);
  g.append("path").attr("d",hi(eMean)).attr("fill","none").attr("stroke","#222").attr("stroke-width",0.9);
  const ml=d3.line().x((d,i)=>xs(eTau[i])).y(d=>ys(d*1e-4));
  g.append("path").attr("d",ml(eMean)).attr("fill","none").attr("stroke","#000").attr("stroke-width",2);
  g.append("rect").attr("x",xs(eBarTau[0])).attr("y",ys(eBarMSD)-2).attr("width",xs(eBarTau[1])-xs(eBarTau[0])).attr("height",4).attr("fill","#000");
  axes({x0,x1,y0,y1,xs,ys,xMajor:[200,2000],xMinor:[50,60,70,80,90,100,300,400,500,600,700,800,900,1000],yMajor:[0.01,0.1],yMinor:logMinor(0.0048,0.197),yLog:true,xdy:16.5});
  eGuides.forEach(([t0,m0,t1,m1,lt,lm,lab])=>{
    const ax=xs(t0),ay=ys(m0),bx=xs(t1),by=ys(m1);
    svg.append("line").attr("x1",ax).attr("y1",ay).attr("x2",bx).attr("y2",by)
      .attr("stroke","#000").attr("stroke-width",1).attr("stroke-dasharray","3.5,2.5");
    const ang=Math.atan2(by-ay,bx-ax)*180/Math.PI;
    rich(svg,xs(lt),ys(lm)+4,[["\u03b1","g"],[" = "+lab]],{anchor:"middle",size:13,rotate:ang});
  });
  rich(svg,447,812,VDJ,{size:13});
  yTitle(382,884.5,[["Radial MSD of observed"]]);
  yTitle(397,884.5,[["motion (\u03bcm"],["2","sup"],[")"]]);
  xTitle(556,1014,[["Time lag, \u03c4 (s)"]]);
}
</script>
</body></html>
